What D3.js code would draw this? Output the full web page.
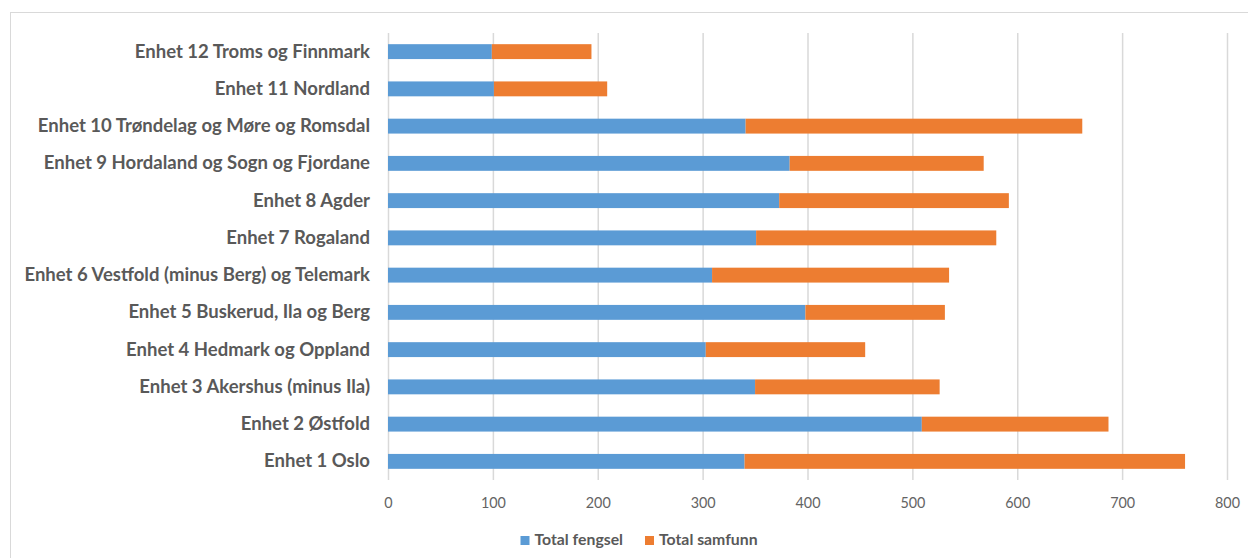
<!DOCTYPE html>
<html>
<head>
<meta charset="utf-8">
<script src="https://cdn.jsdelivr.net/npm/d3@7"></script>
<style>
  html, body { margin: 0; padding: 0; background: #ffffff; }
  svg { display: block; }
  text { font-family: Lato, "Open Sans", "DejaVu Sans", sans-serif; }
</style>
</head>
<body>
<script>
// ---- Data (top to bottom order as displayed) ----
const categories = [
  "Enhet 12 Troms og Finnmark",
  "Enhet 11 Nordland",
  "Enhet 10 Trøndelag og Møre og Romsdal",
  "Enhet 9 Hordaland og Sogn og Fjordane",
  "Enhet 8 Agder",
  "Enhet 7 Rogaland",
  "Enhet 6 Vestfold (minus Berg) og Telemark",
  "Enhet 5 Buskerud, Ila og Berg",
  "Enhet 4 Hedmark og Oppland",
  "Enhet 3 Akershus (minus Ila)",
  "Enhet 2 Østfold",
  "Enhet 1 Oslo"
];
const totalFengsel = [99, 101, 341, 383, 373, 351, 309, 398, 303, 350, 509, 340];
const totalSamfunn = [95, 108, 321, 185, 219, 229, 226, 133, 152, 176, 178, 420];
const seriesNames = ["Total fengsel", "Total samfunn"];
const seriesColors = ["#5B9BD5", "#ED7D31"];
const xTicks = [0, 100, 200, 300, 400, 500, 600, 700, 800];

// ---- Layout ----
const W = 1248, H = 558;
const svg = d3.select("body").append("svg").attr("width", W).attr("height", H);

// chart border (extends past right/bottom edge)
svg.append("rect").attr("x", 10.5).attr("y", 12.5).attr("width", W).attr("height", H)
  .attr("fill", "#fff").attr("stroke", "#d9d9d9").attr("stroke-width", 1);

const x = d3.scaleLinear().domain([0, 800]).range([388, 1227]);
const y = d3.scaleBand().domain(categories).range([33, 480]).paddingInner(0.6).paddingOuter(0.3);

// gridlines
const xAxis = d3.axisBottom(x).tickValues(xTicks).tickSize(-(480 - 33)).tickPadding(18).tickFormat(d3.format("d"));
const gx = svg.append("g").attr("transform", "translate(0,480)").call(xAxis);
gx.select(".domain").remove();
gx.selectAll(".tick line").attr("stroke", "#d9d9d9").attr("stroke-width", 1.5);
gx.selectAll(".tick text").attr("fill", "#646464").attr("font-size", 14.5);

// stacked data
const rows = categories.map((c, i) => ({ cat: c, a: totalFengsel[i], b: totalSamfunn[i] }));
const stack = d3.stack().keys(["a", "b"])(rows);

svg.append("g").selectAll("g").data(stack).join("g")
  .attr("fill", (d, i) => seriesColors[i])
  .selectAll("rect").data(d => d).join("rect")
  .attr("x", d => x(d[0]))
  .attr("width", d => x(d[1]) - x(d[0]))
  .attr("y", d => y(d.data.cat))
  .attr("height", y.bandwidth());

// category labels
const yAxis = d3.axisLeft(y).tickSize(0).tickPadding(18);
const gy = svg.append("g").attr("transform", "translate(388,0)").call(yAxis);
gy.select(".domain").remove();
gy.selectAll(".tick text").attr("fill", "#595959").attr("font-weight", "bold").attr("font-size", 16.5);

// fit label font size to reference width of longest label
(function fit() {
  const t = gy.selectAll(".tick text").filter(d => d === "Enhet 6 Vestfold (minus Berg) og Telemark").node();
  if (t) {
    const w = t.getComputedTextLength();
    const fs = 16.5 * 346 / w;
    gy.selectAll(".tick text").attr("font-size", fs);
  }
  const tt = gx.selectAll(".tick text").filter(d => d === 700).node();
  if (tt) {
    const w = tt.getComputedTextLength();
    gx.selectAll(".tick text").attr("font-size", 14.5 * 25 / w);
  }
})();

// legend
const legendX = [520.5, 645];
const lg = svg.append("g");
seriesNames.forEach((name, i) => {
  lg.append("rect").attr("x", legendX[i]).attr("y", 536).attr("width", 9).attr("height", 9).attr("fill", seriesColors[i]);
  const t = lg.append("text").attr("x", legendX[i] + 14).attr("y", 545)
    .attr("fill", "#595959").attr("font-weight", "bold").attr("font-size", 14).text(name);
  const w = t.node().getComputedTextLength();
  const target = i === 0 ? 88.6 : 98.7;
  t.attr("font-size", 14 * target / w);
});
</script>
</body>
</html>
